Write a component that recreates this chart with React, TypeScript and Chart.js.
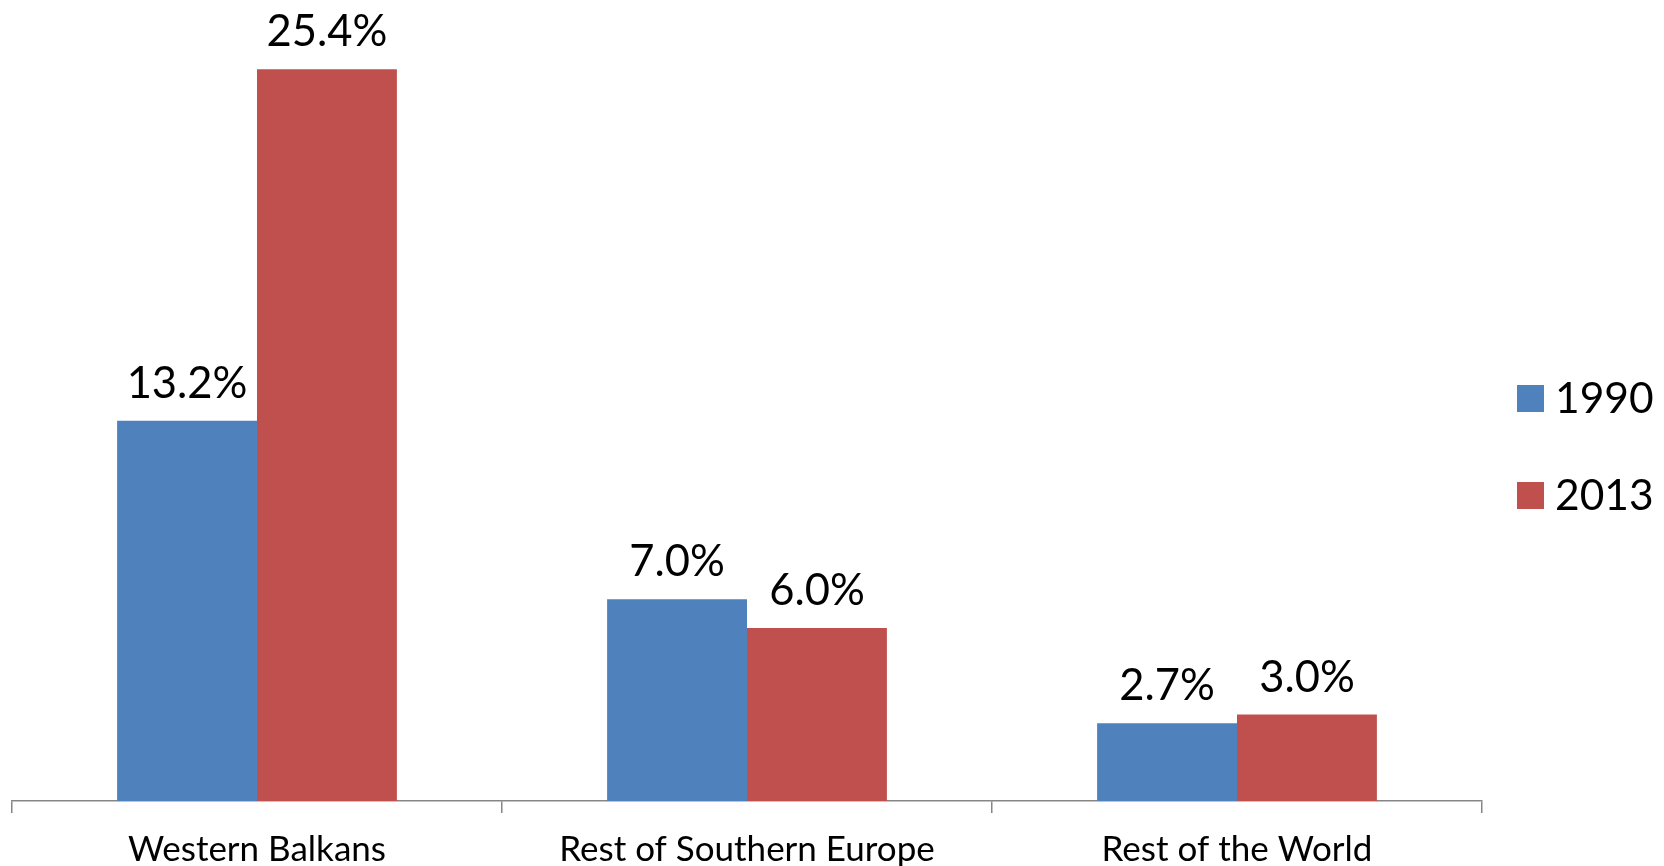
import React, { useEffect, useRef } from "react";
import { Chart, registerables } from "chart.js";

Chart.register(...registerables);

// Share of population by region, 1990 vs 2013
const categories = ["Western Balkans", "Rest of Southern Europe", "Rest of the World"];
const seriesNames = ["1990", "2013"];
const values1990 = [13.2, 7.0, 2.7];
const values2013 = [25.4, 6.0, 3.0];
const seriesColors = ["#4F81BD", "#C0504D"];

const FONT = "Lato, 'Open Sans', sans-serif";

// Percentage labels above each bar
const valueLabels = {
  id: "valueLabels",
  afterDatasetsDraw(chart: any) {
    const ctx = chart.ctx;
    ctx.save();
    ctx.font = `43.5px ${FONT}`;
    ctx.fillStyle = "#000000";
    ctx.textAlign = "center";
    ctx.textBaseline = "alphabetic";
    chart.data.datasets.forEach((ds: any, i: number) => {
      const meta = chart.getDatasetMeta(i);
      meta.data.forEach((bar: any, j: number) => {
        const v = ds.data[j] as number;
        ctx.fillText(`${v.toFixed(1)}%`, bar.x, bar.y - 23);
      });
    });
    ctx.restore();
  },
};

// Vertical legend at the right edge
const sideLegend = {
  id: "sideLegend",
  afterDraw(chart: any) {
    const ctx = chart.ctx;
    const area = chart.chartArea;
    ctx.save();
    ctx.font = `42.5px ${FONT}`;
    ctx.textBaseline = "middle";
    ctx.textAlign = "left";
    const rows = [398.5, 495.5];
    chart.data.datasets.forEach((ds: any, i: number) => {
      const y = rows[i];
      const x = area.right + 35;
      ctx.fillStyle = ds.backgroundColor;
      ctx.fillRect(x, y - 13.5, 27, 27);
      ctx.fillStyle = "#000000";
      ctx.fillText(ds.label, x + 38, y + 1);
    });
    ctx.restore();
  },
};

export default function App() {
  const canvasRef = useRef<HTMLCanvasElement | null>(null);

  useEffect(() => {
    const canvas = canvasRef.current;
    if (!canvas) return;
    const chart = new Chart(canvas, {
      type: "bar",
      data: {
        labels: categories,
        datasets: [
          { label: seriesNames[0], data: values1990, backgroundColor: seriesColors[0] },
          { label: seriesNames[1], data: values2013, backgroundColor: seriesColors[1] },
        ],
      },
      options: {
        responsive: false,
        animation: false,
        maintainAspectRatio: false,
        layout: { padding: { left: 12, right: 182, top: 0, bottom: 0 } },
        datasets: {
          bar: { barPercentage: 1.0, categoryPercentage: 0.571 },
        },
        plugins: {
          legend: { display: false },
          tooltip: { enabled: false },
        },
        scales: {
          x: {
            offset: true,
            grid: {
              display: true,
              offset: true,
              drawOnChartArea: false,
              drawTicks: true,
              tickLength: 12,
              color: "#868686",
              lineWidth: 1.5,
            },
            border: { display: true, color: "#868686", width: 1.5 },
            ticks: {
              color: "#000000",
              font: { family: FONT, size: 35 },
              padding: 16,
              maxRotation: 0,
              autoSkip: false,
            },
            afterFit(scale: any) {
              scale.height = 65;
            },
          },
          y: {
            display: false,
            min: 0,
            max: 27.8,
          },
        },
      },
      plugins: [valueLabels, sideLegend],
    });
    return () => chart.destroy();
  }, []);

  return (
    <div style={{ position: "absolute", left: 0, top: 0, width: 1664, height: 866, background: "#ffffff" }}>
      <canvas ref={canvasRef} width={1664} height={866} style={{ display: "block" }} />
    </div>
  );
}
